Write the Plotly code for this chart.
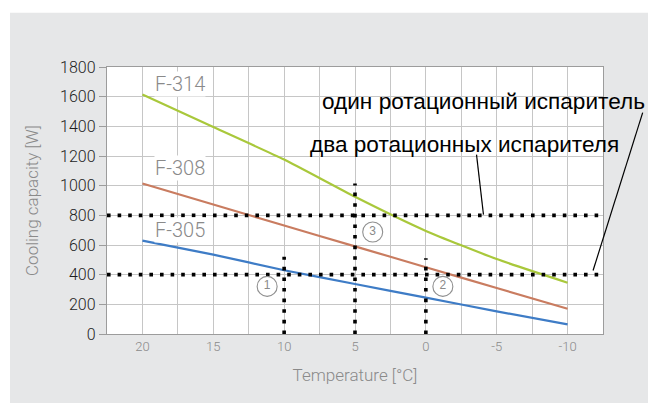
import plotly.graph_objects as go

# ---- data ----
temperatures = [20, 15, 10, 5, 0, -5, -10]
f314_capacity = [1615, 1395, 1176, 925, 695, 505, 346]
f308_capacity = [1015, 873, 731, 591, 450, 310, 170]
f305_capacity = [630, 535, 430, 337, 245, 153, 65]

series_names = ["F-314", "F-308", "F-305"]
series_label_y = [1685, 1118, 702]

ref_levels = [800, 400]            # two / one rotary evaporators
ref_temps = [10, 5, 0]
ref_temp_tops = [520, 1015, 510]

callout_x = [11.2, -1.2, 3.75]
callout_y = [321, 321, 688]
callout_text = ["1", "2", "3"]

x_tick_vals = [20, 15, 10, 5, 0, -5, -10]
x_tick_labels = ["20", "15", "10", "5", "0", "-5", "-10"]
x_range = [22.5, -12.5]
y_range = [0, 1800]

label_one = "один ротационный испаритель"
label_two = "два ротационных испарителя"

# ---- styles ----
colors = ["#a9c83b", "#c97c60", "#3e7cc6"]
gray_text = "#8a8a8a"
grid = "#c6c6c6"
frame = "#9c9c9c"

fig = go.Figure()

for name, vals, col in zip(series_names, [f314_capacity, f308_capacity, f305_capacity], colors):
    fig.add_trace(go.Scatter(x=temperatures, y=vals, mode="lines", name=name,
                             line=dict(color=col, width=2.2, shape="spline", smoothing=0.5),
                             hoverinfo="x+y+name"))

dot = dict(color="black", width=3.6, dash="3.6px,7px")
for lvl in ref_levels:
    fig.add_trace(go.Scatter(x=x_range, y=[lvl, lvl], mode="lines", line=dot, hoverinfo="skip"))
for t, top in zip(ref_temps, ref_temp_tops):
    fig.add_trace(go.Scatter(x=[t, t], y=[0, top], mode="lines", line=dot, hoverinfo="skip"))

fig.add_trace(go.Scatter(x=callout_x, y=callout_y, mode="markers+text", text=callout_text,
                         textposition="middle center",
                         textfont=dict(family="Liberation Sans", size=12, color=gray_text),
                         marker=dict(symbol="circle-open", size=20, color="#8f8f8f",
                                     line=dict(width=1.1, color="#8f8f8f")),
                         hoverinfo="skip"))

annotations = []
for name, ly in zip(series_names, series_label_y):
    annotations.append(dict(x=19.2, y=ly, xref="x", yref="y", text=name, showarrow=False,
                            xanchor="left", yanchor="middle", bgcolor="white", borderpad=0,
                            font=dict(family="Roboto", weight=300, size=20, color=gray_text)))
annotations.append(dict(x=7.45, y=1566, xref="x", yref="y", text=label_one, showarrow=False,
                        xanchor="left", yanchor="middle",
                        font=dict(family="Liberation Sans", size=22.6, color="black")))
annotations.append(dict(x=8.3, y=1276, xref="x", yref="y", text=label_two, showarrow=False,
                        xanchor="left", yanchor="middle",
                        font=dict(family="Liberation Sans", size=22.6, color="black")))

shapes = [
    # leader lines
    dict(type="line", xref="paper", yref="paper", x0=0.745, y0=0.672, x1=0.759, y1=0.447,
         line=dict(color="black", width=1.2), layer="above"),
    dict(type="line", xref="paper", yref="paper", x0=1.080, y0=0.829, x1=0.980, y1=0.238,
         line=dict(color="black", width=1.2), layer="above"),
    # white outer strips (top and left of the gray panel)
    dict(type="rect", xref="paper", yref="paper", x0=-0.3, x1=1.2, y0=1.2034, y1=1.4,
         fillcolor="white", line=dict(width=0), layer="above"),
    dict(type="rect", xref="paper", yref="paper", x0=-0.3, x1=-0.1956, y0=-0.4, y1=1.4,
         fillcolor="white", line=dict(width=0), layer="above"),
]

fig.update_layout(
    width=648, height=403, autosize=False,
    margin=dict(l=107, r=45, t=67, b=69),
    paper_bgcolor="#e6e7e8", plot_bgcolor="white",
    showlegend=False,
    annotations=annotations, shapes=shapes,
    xaxis=dict(range=x_range, tickmode="array", tickvals=x_tick_vals, ticktext=x_tick_labels,
               showgrid=True, gridcolor=grid, gridwidth=1.4,
               minor=dict(tick0=0, dtick=2.5, showgrid=True, gridcolor=grid, gridwidth=1.4),
               showline=True, linecolor=frame, linewidth=1.4, mirror=True, ticks="",
               zeroline=False,
               tickfont=dict(family="Roboto", weight=300, size=13, color=gray_text),
               title=dict(text="Temperature [°C]", standoff=16,
                          font=dict(family="Roboto", weight=300, size=17, color=gray_text))),
    yaxis=dict(range=y_range, dtick=200, showgrid=True, gridcolor=grid, gridwidth=1.4,
               showline=True, linecolor=frame, linewidth=1.4, mirror=True,
               ticks="outside", ticklen=7, tickcolor=frame, tickwidth=1.4, zeroline=False,
               tickfont=dict(family="Roboto", weight=300, size=16, color="#1e1e1e"),
               title=dict(text="Cooling capacity [W]", standoff=17,
                          font=dict(family="Roboto", weight=300, size=17, color=gray_text))),
)

fig.write_html("out.html",
               config={"displayModeBar": False},
               post_script="document.body.style.margin='0';document.body.style.overflow='hidden';")
